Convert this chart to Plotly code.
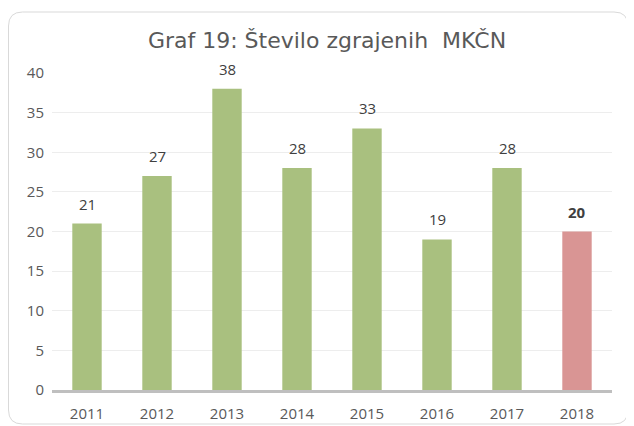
import plotly.graph_objects as go

# Graf 19: Število zgrajenih MKČN
years = ["2011", "2012", "2013", "2014", "2015", "2016", "2017", "2018"]
counts = [21, 27, 38, 28, 33, 19, 28, 20]

GREEN = "#A9C07F"
RED = "#D99594"
TEXT = "#595959"
FONT = "Open Sans, Liberation Sans, sans-serif"

# the page body adds an 8px margin, so the figure is 8px smaller than the window
W, H = 626, 418
ML, MR, MT, MB = 44, 22, 65, 36

colors = [GREEN] * (len(years) - 1) + [RED]

fig = go.Figure()
fig.add_trace(
    go.Bar(
        x=years,
        y=counts,
        marker=dict(color=colors, line=dict(width=0)),
        hoverinfo="x+y",
    )
)

# value labels sit a little above each bar (x given as category index,
# numeric-looking strings would be read as positions on a category axis)
for i, v in enumerate(counts):
    last = i == len(years) - 1
    fig.add_annotation(
        x=i,
        y=v,
        text=f"<b>{v}</b>" if last else str(v),
        showarrow=False,
        yanchor="bottom",
        yshift=8,
        font=dict(family=FONT, size=15, color="#404040"),
    )


# rounded frame of the chart area, drawn in pixel units converted to paper
def px(x):
    return (x - ML) / (W - ML - MR)


def py(y):
    return (H - MB - y) / (H - MT - MB)


x0, x1, y0, y1, r = 0.5, 620, 4, 416, 14
frame = (
    f"M {px(x0 + r)},{py(y0)} L {px(x1 - r)},{py(y0)} "
    f"Q {px(x1)},{py(y0)} {px(x1)},{py(y0 + r)} "
    f"L {px(x1)},{py(y1 - r)} Q {px(x1)},{py(y1)} {px(x1 - r)},{py(y1)} "
    f"L {px(x0 + r)},{py(y1)} Q {px(x0)},{py(y1)} {px(x0)},{py(y1 - r)} "
    f"L {px(x0)},{py(y0 + r)} Q {px(x0)},{py(y0)} {px(x0 + r)},{py(y0)} Z"
)
fig.add_shape(
    type="path",
    path=frame,
    xref="paper",
    yref="paper",
    line=dict(color="#D9D9D9", width=1),
    layer="below",
)

fig.update_layout(
    width=W,
    height=H,
    margin=dict(l=ML, r=MR, t=MT, b=MB),
    paper_bgcolor="white",
    plot_bgcolor="white",
    showlegend=False,
    bargap=0.58,
    title=dict(
        text="Graf 19: Število zgrajenih  MKČN",
        x=(327 - 8) / W,
        xref="container",
        xanchor="center",
        y=1 - 32 / H,
        yanchor="middle",
        font=dict(family="DejaVu Sans, Liberation Sans, sans-serif", size=22, color=TEXT),
    ),
    font=dict(family=FONT, size=15, color=TEXT),
)
fig.update_yaxes(
    range=[0, 40],
    dtick=5,
    showgrid=True,
    gridcolor="#EDEDED",
    gridwidth=1,
    zeroline=False,
    showline=False,
    tickfont=dict(size=15, color=TEXT),
    ticklabelstandoff=7,
    automargin=False,
)
fig.update_xaxes(
    type="category",
    showline=True,
    linecolor="#BFBFBF",
    linewidth=3,
    ticks="",
    tickfont=dict(size=15, color=TEXT),
    ticklabelstandoff=8,
    automargin=False,
)

fig.write_html("out.html")
